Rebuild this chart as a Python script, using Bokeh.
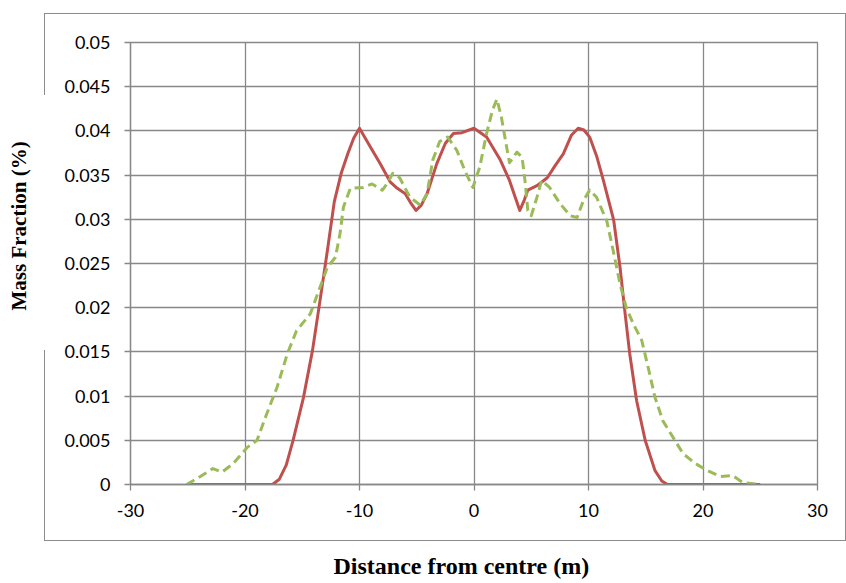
from bokeh.plotting import figure
from bokeh.models import Range1d, FixedTicker, NumeralTickFormatter, Title
from bokeh.embed import file_html
from bokeh.resources import INLINE

# ---- data ----
x_ticks = [-30, -20, -10, 0, 10, 20, 30]
y_ticks = [0, 0.005, 0.01, 0.015, 0.02, 0.025, 0.03, 0.035, 0.04, 0.045, 0.05]

red_x = [-25, -20, -17.6, -17.0, -16.4, -15.8, -14.9, -14.1, -13.45, -12.8, -12.2, -11.6,
         -11.0, -10.5, -10.0, -9.1, -8.2, -7.3, -6.7, -6.0, -5.5, -5.07, -4.6, -4.1, -3.25,
         -2.5, -1.8, -1.05, 0.0, 1.1, 2.3, 3.1, 3.6, 4.0, 4.4, 4.7, 5.5, 6.4, 7.1, 7.8, 8.5,
         9.1, 9.6, 10.1, 10.7, 11.3, 12.2, 12.75, 13.2, 13.6, 14.2, 14.95, 15.8, 16.4, 16.9,
         20, 25]
red_y = [0, 0, 0, 0.0006, 0.0022, 0.005, 0.0098, 0.0152, 0.0208, 0.0265, 0.032, 0.0352,
         0.0375, 0.0392, 0.0403, 0.0383, 0.0363, 0.0342, 0.0335, 0.0329, 0.0318, 0.031,
         0.0316, 0.0329, 0.0363, 0.0386, 0.0397, 0.0398, 0.0403, 0.0393, 0.0367, 0.0344,
         0.0325, 0.031, 0.0322, 0.0333, 0.0338, 0.0347, 0.0361, 0.0374, 0.0395, 0.0403,
         0.0401, 0.0393, 0.0372, 0.0344, 0.0299, 0.0246, 0.0193, 0.0148, 0.0095, 0.005,
         0.0016, 0.0004, 0, 0, 0]

green_x = [-25.1, -23.9, -22.8, -22.0, -21.0, -19.8, -18.95, -18.1, -17.2, -16.3, -15.5,
           -14.3, -13.45, -12.8, -12.1, -11.7, -11.4, -10.8, -9.7, -8.9, -8.0, -7.5, -7.1,
           -6.5, -5.6, -4.7, -4.1, -3.6, -3.0, -2.3, -1.5, -0.8, -0.1, 0.5, 1.1, 1.6, 2.0,
           2.4, 2.9, 3.1, 3.75, 4.2, 4.45, 4.7, 5.0, 5.5, 5.9, 6.6, 7.5, 8.4, 9.0, 9.55,
           10.1, 10.7, 11.6, 12.15, 12.75, 13.3, 13.9, 14.65, 15.2, 15.8, 16.5, 17.4, 18.25,
           19.3, 20.35, 21.5, 22.6, 23.5, 25.0]
green_y = [0, 0.0009, 0.0018, 0.0014, 0.0024, 0.0042, 0.005, 0.008, 0.011, 0.0148, 0.0174,
           0.0193, 0.0223, 0.0246, 0.0257, 0.0284, 0.0314, 0.0335, 0.0336, 0.034, 0.0333,
           0.0342, 0.0352, 0.0347, 0.0325, 0.0316, 0.0329, 0.0367, 0.0388, 0.0393, 0.0378,
           0.0355, 0.0336, 0.0359, 0.0397, 0.0423, 0.0436, 0.0415, 0.0378, 0.0364, 0.0376,
           0.037, 0.0344, 0.031, 0.0304, 0.0325, 0.0344, 0.0336, 0.0318, 0.0304, 0.0302,
           0.0321, 0.0333, 0.0325, 0.0298, 0.0265, 0.0227, 0.02, 0.0182, 0.0163, 0.0133,
           0.0099, 0.0072, 0.0053, 0.0035, 0.0024, 0.0016, 0.0009, 0.001, 0.0002, 0]

x_title = "Distance from centre (m)"
y_title = "Mass Fraction (%)"

GRID = "#888888"

p = figure(width=846, height=583, output_backend="svg", toolbar_location=None,
           x_range=Range1d(-30, 30), y_range=Range1d(0, 0.05),
           min_border_left=130, min_border_right=29, min_border_top=42, min_border_bottom=99)
p.background_fill_color = "white"
p.border_fill_color = None
p.outline_line_color = GRID
p.outline_line_width = 1.3

# chart-area border (drawn behind the transparent canvas border area)
seg = "linear-gradient(#8c8c8c,#8c8c8c)"
p.styles = {
    "background-color": "white",
    "background-image": ", ".join([seg] * 5),
    "background-position": "44px 13px, 845px 13px, 44px 540px, 44px 13px, 44px 350px",
    "background-size": "802px 1.3px, 1.3px 528px, 802px 1.3px, 1.3px 82px, 1.3px 191px",
    "background-repeat": "no-repeat",
}

p.xaxis.ticker = FixedTicker(ticks=x_ticks)
p.yaxis.ticker = FixedTicker(ticks=y_ticks)
p.yaxis.formatter = NumeralTickFormatter(format="0.[000]")
p.xaxis.major_label_overrides = {t: str(t) for t in x_ticks}
for ax in (p.xaxis[0], p.yaxis[0]):
    ax.axis_line_color = GRID
    ax.axis_line_width = 1.3
    ax.major_tick_line_color = GRID
    ax.major_tick_line_width = 1.3
    ax.major_tick_out = 6
    ax.major_tick_in = 0
    ax.minor_tick_line_color = None
    ax.major_label_text_font = "Lato"
    ax.major_label_text_font_size = "18px"
    ax.major_label_text_color = "black"
    # blank spacer label, pushes the titles outward
    ax.axis_label = "\u00a0"
    ax.axis_label_text_font_size = "1px"
p.yaxis.major_label_standoff = 14
p.xaxis.major_label_standoff = 13
p.yaxis.axis_label_standoff = 27
p.xaxis.axis_label_standoff = 27

p.xgrid.ticker = FixedTicker(ticks=x_ticks)
p.ygrid.ticker = FixedTicker(ticks=y_ticks)
for g in (p.xgrid[0], p.ygrid[0]):
    g.grid_line_color = GRID
    g.grid_line_width = 1.3

p.line(red_x, red_y, line_color="#C0504D", line_width=3, line_join="round")
p.line(green_x, green_y, line_color="#9BBB59", line_width=3, line_dash="9 5", line_join="round")

p.add_layout(Title(text=y_title, align="left", offset=174, standoff=0,
                   text_font="Liberation Serif", text_font_style="bold",
                   text_font_size="21px", text_color="black"), "left")
p.add_layout(Title(text=x_title, align="left", offset=203, standoff=0,
                   text_font="Liberation Serif", text_font_style="bold",
                   text_font_size="24px", text_color="black"), "below")

open("out.html", "w").write(file_html(p, INLINE))
